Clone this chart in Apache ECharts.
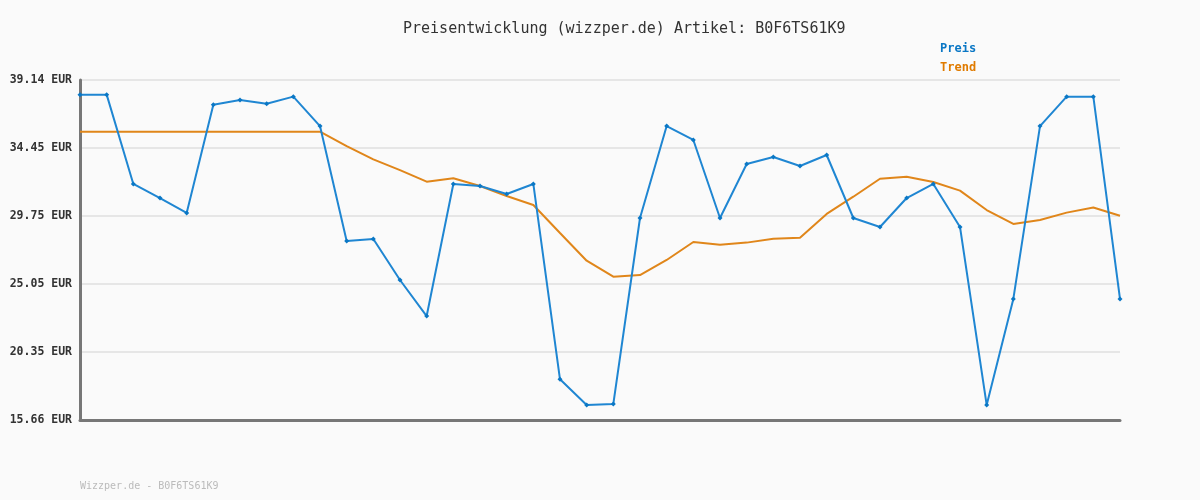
<!DOCTYPE html>
<html>
<head>
<meta charset="utf-8">
<script src="https://cdn.jsdelivr.net/npm/echarts@6/dist/echarts.min.js"></script>
<style>
html,body{margin:0;padding:0;background:#fafafa;}
#c{width:1200px;height:500px;}
</style>
</head>
<body>
<div id="c"></div>
<script>
const categories = Array.from({length: 40}, (_, i) => String(i + 1));
const preis = [38.13, 38.13, 31.96, 30.99, 29.96, 37.43, 37.76, 37.50, 37.99, 35.96,
  28.02, 28.16, 25.33, 22.84, 31.96, 31.82, 31.27, 31.96, 18.47, 16.70,
  16.77, 29.61, 35.96, 35.00, 29.61, 33.34, 33.82, 33.20, 33.96, 29.61,
  28.99, 30.99, 31.96, 28.99, 16.70, 24.02, 35.96, 37.99, 37.99, 24.02];
const trend = [35.57, 35.57, 35.57, 35.57, 35.57, 35.57, 35.57, 35.57, 35.57, 35.57,
  34.58, 33.66, 32.92, 32.12, 32.35, 31.82, 31.13, 30.51, 28.57, 26.66,
  25.56, 25.67, 26.71, 27.95, 27.77, 27.91, 28.18, 28.25, 29.89, 31.08,
  32.32, 32.46, 32.10, 31.50, 30.16, 29.20, 29.47, 29.98, 30.33, 29.77];
const yTicks = [15.66, 20.35, 25.05, 29.75, 34.45, 39.14];

const FONT = 'DejaVu Sans Mono';
const chart = echarts.init(document.getElementById('c'));
chart.setOption({
  backgroundColor: '#fafafa',
  animation: false,
  title: [
    {text: 'Preisentwicklung (wizzper.de) Artikel: B0F6TS61K9', left: 398, top: 17,
     textStyle: {fontFamily: FONT, fontSize: 15, fontWeight: 'normal', color: '#333'}},
    {text: 'Wizzper.de - B0F6TS61K9', left: 75, top: 476,
     textStyle: {fontFamily: FONT, fontSize: 10, fontWeight: 'normal', color: '#bbb'}}
  ],
  legend: {
    orient: 'vertical', left: 930, top: 38, itemGap: 7, itemWidth: 0, itemHeight: 0,
    selectedMode: false,
    textStyle: {fontFamily: FONT, fontSize: 12, fontWeight: 'bold'},
    data: [
      {name: 'Preis', icon: 'none', textStyle: {color: '#0a77c5'}},
      {name: 'Trend', icon: 'none', textStyle: {color: '#e07b00'}}
    ]
  },
  grid: {left: 80, right: 80, top: 80, bottom: 80},
  xAxis: {
    type: 'category', data: categories, boundaryGap: false,
    axisLine: {lineStyle: {color: '#777', width: 3}},
    axisTick: {show: false}, axisLabel: {show: false}, splitLine: {show: false}
  },
  yAxis: {
    type: 'value', min: 15.66, max: 39.14,
    axisLine: {show: true, lineStyle: {color: '#777', width: 3}},
    axisTick: {show: false, customValues: yTicks},
    axisLabel: {customValues: yTicks, fontFamily: FONT, fontSize: 11.5, fontWeight: 'bold', color: '#333',
      margin: 8, formatter: v => v.toFixed(2) + ' EUR'},
    splitLine: {show: true, lineStyle: {color: '#e6e6e6', width: 2}}
  },
  series: [
    {name: 'Preis', type: 'line', data: preis, z: 3,
     symbol: 'diamond', symbolSize: 5, showAllSymbol: true,
     lineStyle: {color: '#1f86d2', width: 2}, itemStyle: {color: '#0a77c5'}},
    {name: 'Trend', type: 'line', data: trend, z: 2, symbol: 'none',
     lineStyle: {color: '#e0861a', width: 2}, itemStyle: {color: '#e07b00'}}
  ]
});
</script>
</body>
</html>
